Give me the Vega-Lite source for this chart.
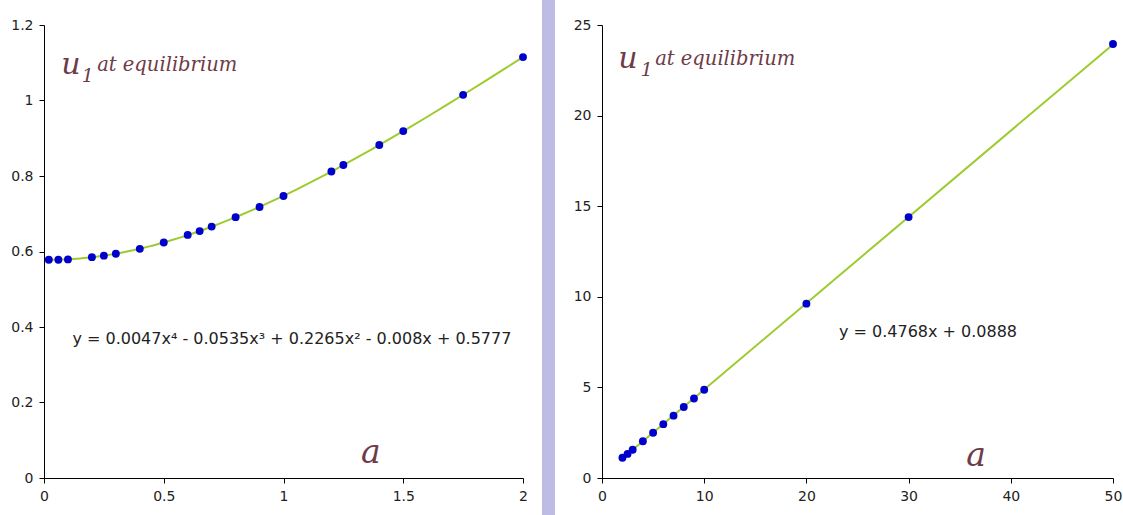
{
  "$schema": "https://vega.github.io/schema/vega-lite/v6.json",
  "background": "white",
  "padding": {"left": 10, "top": 0, "right": 0, "bottom": 0},
  "config": {
    "view": {"stroke": null},
    "axis": {
      "grid": false,
      "domainColor": "#000000",
      "domainWidth": 1,
      "tickColor": "#000000",
      "tickSize": 5,
      "labelFont": "DejaVu Sans",
      "labelFontSize": 14,
      "labelColor": "#222222",
      "labelPadding": 6,
      "labelFlush": false,
      "labelOverlap": false
    }
  },
  "datasets": {
    "small": [
      {"a": 0.02, "u": 0.578}, {"a": 0.06, "u": 0.578}, {"a": 0.1, "u": 0.579},
      {"a": 0.2, "u": 0.585}, {"a": 0.25, "u": 0.589}, {"a": 0.3, "u": 0.594},
      {"a": 0.4, "u": 0.607}, {"a": 0.5, "u": 0.624}, {"a": 0.6, "u": 0.644},
      {"a": 0.65, "u": 0.654}, {"a": 0.7, "u": 0.666}, {"a": 0.8, "u": 0.691},
      {"a": 0.9, "u": 0.718}, {"a": 1.0, "u": 0.747}, {"a": 1.2, "u": 0.812},
      {"a": 1.25, "u": 0.829}, {"a": 1.4, "u": 0.882}, {"a": 1.5, "u": 0.919},
      {"a": 1.75, "u": 1.015}, {"a": 2.0, "u": 1.115}
    ],
    "large": [
      {"a": 2, "u": 1.115}, {"a": 2.5, "u": 1.33}, {"a": 3, "u": 1.56},
      {"a": 4, "u": 2.03}, {"a": 5, "u": 2.5}, {"a": 6, "u": 2.97},
      {"a": 7, "u": 3.44}, {"a": 8, "u": 3.92}, {"a": 9, "u": 4.39},
      {"a": 10, "u": 4.87}, {"a": 20, "u": 9.62}, {"a": 30, "u": 14.4},
      {"a": 50, "u": 23.95}
    ]
  },
  "spacing": 14,
  "hconcat": [
    {
      "width": 479,
      "height": 453,
      "layer": [
        {
          "data": {"name": "small"},
          "transform": [{"regression": "u", "on": "a", "method": "poly", "order": 4, "extent": [0.02, 2]}],
          "mark": {"type": "line", "color": "#9dcb2e", "strokeWidth": 2},
          "encoding": {
            "x": {"field": "a", "type": "quantitative", "title": null, "scale": {"domain": [0, 2], "nice": false}, "axis": {"values": [0, 0.5, 1, 1.5, 2], "format": "~g"}},
            "y": {"field": "u", "type": "quantitative", "title": null, "scale": {"domain": [0, 1.2], "nice": false}, "axis": {"values": [0, 0.2, 0.4, 0.6, 0.8, 1, 1.2], "format": "~g"}}
          }
        },
        {
          "data": {"name": "small"},
          "mark": {"type": "point", "filled": true, "opacity": 1, "size": 62, "color": "#0000cc"},
          "encoding": {
            "x": {"field": "a", "type": "quantitative"},
            "y": {"field": "u", "type": "quantitative"}
          }
        },
        {
          "data": {"values": [{}]},
          "mark": {"type": "text", "font": "DejaVu Serif", "fontStyle": "italic", "fontSize": 30, "color": "#6e3b47", "align": "left", "baseline": "alphabetic"},
          "encoding": {"x": {"datum": 0.072}, "y": {"datum": 1.07}, "text": {"value": "u"}}
        },
        {
          "data": {"values": [{}]},
          "mark": {"type": "text", "font": "DejaVu Serif", "fontStyle": "italic", "fontSize": 19, "color": "#6e3b47", "align": "left", "baseline": "alphabetic"},
          "encoding": {"x": {"datum": 0.158}, "y": {"datum": 1.05}, "text": {"value": "1"}}
        },
        {
          "data": {"values": [{}]},
          "mark": {"type": "text", "font": "DejaVu Serif", "fontStyle": "italic", "fontSize": 19.5, "color": "#6e3b47", "align": "left", "baseline": "alphabetic"},
          "encoding": {"x": {"datum": 0.222}, "y": {"datum": 1.077}, "text": {"value": "at equilibrium"}}
        },
        {
          "data": {"values": [{}]},
          "mark": {"type": "text", "font": "DejaVu Serif", "fontStyle": "italic", "fontSize": 33, "color": "#6e3b47", "align": "center", "baseline": "alphabetic"},
          "encoding": {"x": {"datum": 1.365}, "y": {"datum": 0.04}, "text": {"value": "a"}}
        },
        {
          "data": {"values": [{}]},
          "mark": {"type": "text", "font": "DejaVu Sans", "fontSize": 16, "color": "#222222", "align": "center", "baseline": "middle"},
          "encoding": {"x": {"datum": 1.035}, "y": {"datum": 0.368}, "text": {"value": "y = 0.0047x⁴ - 0.0535x³ + 0.2265x² - 0.008x + 0.5777"}}
        }
      ]
    },
    {
      "spacing": 18,
      "hconcat": [
        {
          "width": 13,
          "height": 490,
          "data": {"values": [{}]},
          "mark": {"type": "rect", "color": "#bcbce4"},
          "encoding": {
            "x": {"datum": 0, "type": "quantitative", "scale": {"domain": [0, 1], "nice": false}, "axis": null},
            "x2": {"datum": 1},
            "y": {"datum": 0, "type": "quantitative", "scale": {"domain": [0, 1], "nice": false}, "axis": null},
            "y2": {"datum": 1.051}
          }
        },
        {
          "width": 511,
          "height": 453,
          "layer": [
            {
              "data": {"name": "large"},
              "transform": [{"regression": "u", "on": "a", "method": "linear", "extent": [2, 50]}],
              "mark": {"type": "line", "color": "#9dcb2e", "strokeWidth": 2},
              "encoding": {
                "x": {"field": "a", "type": "quantitative", "title": null, "scale": {"domain": [0, 50], "nice": false}, "axis": {"values": [0, 10, 20, 30, 40, 50], "format": "~g"}},
                "y": {"field": "u", "type": "quantitative", "title": null, "scale": {"domain": [0, 25], "nice": false}, "axis": {"values": [0, 5, 10, 15, 20, 25], "format": "~g"}}
              }
            },
            {
              "data": {"name": "large"},
              "mark": {"type": "point", "filled": true, "opacity": 1, "size": 62, "color": "#0000cc"},
              "encoding": {
                "x": {"field": "a", "type": "quantitative"},
                "y": {"field": "u", "type": "quantitative"}
              }
            },
            {
              "data": {"values": [{}]},
              "mark": {"type": "text", "font": "DejaVu Serif", "fontStyle": "italic", "fontSize": 30, "color": "#6e3b47", "align": "left", "baseline": "alphabetic"},
              "encoding": {"x": {"datum": 1.6}, "y": {"datum": 22.6}, "text": {"value": "u"}}
            },
            {
              "data": {"values": [{}]},
              "mark": {"type": "text", "font": "DejaVu Serif", "fontStyle": "italic", "fontSize": 19, "color": "#6e3b47", "align": "left", "baseline": "alphabetic"},
              "encoding": {"x": {"datum": 3.8}, "y": {"datum": 22.2}, "text": {"value": "1"}}
            },
            {
              "data": {"values": [{}]},
              "mark": {"type": "text", "font": "DejaVu Serif", "fontStyle": "italic", "fontSize": 19.5, "color": "#6e3b47", "align": "left", "baseline": "alphabetic"},
              "encoding": {"x": {"datum": 5.2}, "y": {"datum": 22.8}, "text": {"value": "at equilibrium"}}
            },
            {
              "data": {"values": [{}]},
              "mark": {"type": "text", "font": "DejaVu Serif", "fontStyle": "italic", "fontSize": 33, "color": "#6e3b47", "align": "center", "baseline": "alphabetic"},
              "encoding": {"x": {"datum": 36.6}, "y": {"datum": 0.66}, "text": {"value": "a"}}
            },
            {
              "data": {"values": [{}]},
              "mark": {"type": "text", "font": "DejaVu Sans", "fontSize": 16, "color": "#222222", "align": "center", "baseline": "middle"},
              "encoding": {"x": {"datum": 31.9}, "y": {"datum": 8.06}, "text": {"value": "y = 0.4768x + 0.0888"}}
            }
          ]
        }
      ]
    }
  ]
}
